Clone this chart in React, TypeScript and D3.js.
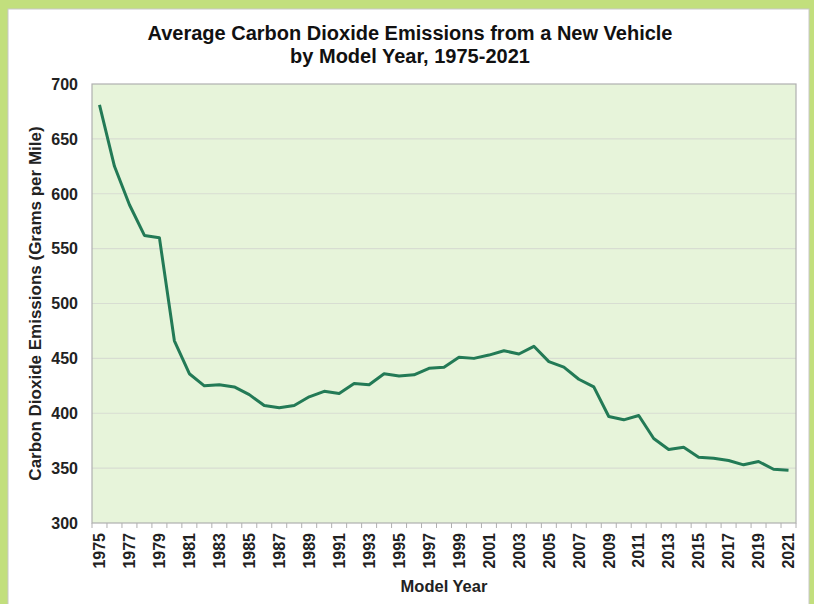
import React from "react";
import * as d3 from "d3";

// model years and average CO2 emissions (g/mile)
const years: number[] = d3.range(1975, 2022);
const emissions: number[] = [
  681, 625, 590, 562, 560, 466, 436, 425, 426, 424,
  417, 407, 405, 407, 415, 420, 418, 427, 426, 436,
  434, 435, 441, 442, 451, 450, 453, 457, 454, 461,
  447, 442, 431, 424, 397, 394, 398, 377, 367, 369,
  360, 359, 357, 353, 356, 349, 348,
];
const yTicks: number[] = [300, 350, 400, 450, 500, 550, 600, 650, 700];
const xTickLabels: number[] = years.filter((y) => (y - 1975) % 2 === 0);

const W = 814;
const H = 604;
const plot = { left: 92, right: 796, top: 84, bottom: 523 };
const font = "Arial, 'Liberation Sans', sans-serif";

export default function App() {
  const x = d3
    .scaleBand<number>()
    .domain(years)
    .range([plot.left, plot.right])
    .paddingInner(0)
    .paddingOuter(0);
  const y = d3.scaleLinear().domain([300, 700]).range([plot.bottom, plot.top]);

  const line = d3
    .line<number>()
    .x((_, i) => (x(years[i]) as number) + x.bandwidth() / 2)
    .y((d) => y(d));

  // category tick marks sit on band boundaries
  const tickXs = years.map((yr) => x(yr) as number).concat([plot.right]);

  return (
    <svg
      width={W}
      height={H}
      style={{ position: "absolute", left: 0, top: 0 }}
      fontFamily={font}
    >
      {/* frame */}
      <rect x={0} y={0} width={W} height={H} fill="#c2df7d" />
      <rect x={8} y={9} width={801} height={H} fill="#ffffff" stroke="#c8c8c8" strokeWidth={1} />

      {/* title */}
      <text x={410} y={40} textAnchor="middle" fontSize={20} fontWeight="bold" fill="#111">
        Average Carbon Dioxide Emissions from a New Vehicle
      </text>
      <text x={410} y={63} textAnchor="middle" fontSize={20} fontWeight="bold" fill="#111">
        by Model Year, 1975-2021
      </text>

      {/* plot area */}
      <rect
        x={plot.left}
        y={plot.top}
        width={plot.right - plot.left}
        height={plot.bottom - plot.top}
        fill="#e7f4da"
      />
      {yTicks.slice(1, -1).map((t) => (
        <line
          key={t}
          x1={plot.left}
          x2={plot.right}
          y1={y(t)}
          y2={y(t)}
          stroke="#d8ddd2"
          strokeWidth={1.2}
        />
      ))}
      <rect
        x={plot.left}
        y={plot.top}
        width={plot.right - plot.left}
        height={plot.bottom - plot.top}
        fill="none"
        stroke="#b0b0b0"
        strokeWidth={1.2}
      />

      {/* y axis labels */}
      {yTicks.map((t) => (
        <text
          key={t}
          x={78}
          y={y(t)}
          dy="0.36em"
          textAnchor="end"
          fontSize={16}
          fontWeight="bold"
          fill="#222"
        >
          {t}
        </text>
      ))}
      <text
        transform={`translate(41,${(plot.top + plot.bottom) / 2}) rotate(-90)`}
        textAnchor="middle"
        fontSize={17}
        fontWeight="bold"
        fill="#222"
      >
        Carbon Dioxide Emissions (Grams per Mile)
      </text>

      {/* x axis ticks */}
      {tickXs.map((tx, i) => (
        <line
          key={i}
          x1={tx}
          x2={tx}
          y1={plot.bottom}
          y2={plot.bottom + 5}
          stroke="#b0b0b0"
          strokeWidth={1}
        />
      ))}
      {xTickLabels.map((yr) => {
        const cx = (x(yr) as number) + x.bandwidth() / 2;
        return (
          <text
            key={yr}
            transform={`translate(${cx},${plot.bottom + 10}) rotate(-90)`}
            textAnchor="end"
            dy="0.36em"
            fontSize={16}
            fontWeight="bold"
            fill="#222"
          >
            {yr}
          </text>
        );
      })}
      <text
        x={(plot.left + plot.right) / 2}
        y={592}
        textAnchor="middle"
        fontSize={16.5}
        fontWeight="bold"
        fill="#222"
      >
        Model Year
      </text>

      {/* series */}
      <path
        d={line(emissions) ?? ""}
        fill="none"
        stroke="#237a56"
        strokeWidth={3}
        strokeLinejoin="round"
      />
    </svg>
  );
}
